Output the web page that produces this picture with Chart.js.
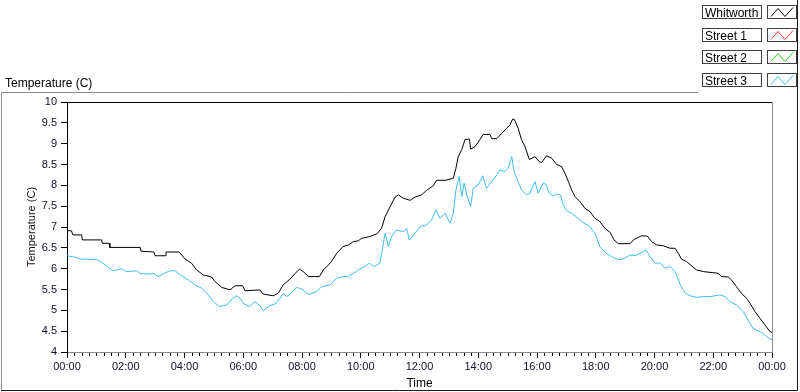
<!DOCTYPE html>
<html>
<head>
<meta charset="utf-8">
<title>Temperature (C)</title>
<script src="https://cdn.jsdelivr.net/npm/chart.js@4.4.1/dist/chart.umd.min.js"></script>
<style>
  html, body { margin: 0; padding: 0; background: #fff; }
  #chart { display: block; }
</style>
</head>
<body>
<canvas id="chart" width="800" height="392"></canvas>
<script>
// series names + colours (legend order)
const seriesNames = ['Whitworth', 'Street 1', 'Street 2', 'Street 3'];
const seriesColors = ['#000000', '#ff3c3c', '#1ed81e', '#3dbdf6'];

// hours of day (0-24) and temperatures
const whitworthHours = [0, 0.15, 0.2, 0.5, 0.52, 1.18, 1.2, 1.44, 1.46, 2.49, 2.52, 2.96, 3.0, 3.34, 3.37, 3.82,
  4.02, 4.24, 4.41, 4.64, 4.92, 5.04, 5.27, 5.55, 5.72, 5.98, 6.06, 6.57, 6.68, 7.02, 7.19, 7.36, 7.59, 7.76,
  7.91, 8.04, 8.22, 8.59, 8.73, 8.9, 9.0, 9.18, 9.4, 9.58, 9.75, 9.92, 10.03, 10.31, 10.56, 10.71, 10.83, 11.0,
  11.17, 11.28, 11.45, 11.68, 11.85, 12.07, 12.24, 12.47, 12.58, 12.87, 13.15, 13.24, 13.32, 13.44, 13.55,
  13.7, 13.74, 13.89, 14.06, 14.17, 14.4, 14.46, 14.63, 14.8, 14.97, 15.08, 15.17, 15.23, 15.36, 15.47, 15.59,
  15.74, 15.93, 16.07, 16.16, 16.33, 16.5, 16.67, 16.84, 16.95, 17.07, 17.18, 17.29, 17.46, 17.63, 17.8, 17.97,
  18.14, 18.31, 18.49, 18.62, 18.77, 19.17, 19.28, 19.56, 19.76, 19.9, 20.07, 20.3, 20.53, 20.7, 20.81, 20.92,
  21.09, 21.26, 21.43, 21.66, 22.17, 22.28, 22.51, 22.62, 22.79, 22.96, 23.13, 23.25, 23.42, 23.59, 23.76,
  23.93, 24];
const whitworthTemps = [6.91, 6.91, 6.81, 6.81, 6.69, 6.69, 6.61, 6.61, 6.51, 6.51, 6.42, 6.4, 6.31, 6.31, 6.4, 6.4,
  6.23, 6.13, 5.97, 5.85, 5.8, 5.69, 5.55, 5.49, 5.59, 5.59, 5.47, 5.49, 5.39, 5.35, 5.41, 5.61, 5.75, 5.88,
  5.99, 5.93, 5.81, 5.81, 5.97, 6.09, 6.17, 6.37, 6.53, 6.57, 6.65, 6.67, 6.73, 6.77, 6.84, 6.97, 7.25, 7.49,
  7.72, 7.77, 7.69, 7.64, 7.72, 7.77, 7.88, 7.99, 8.12, 8.12, 8.17, 8.41, 8.69, 8.86, 9.1,
  9.11, 8.87, 8.93, 9.1, 9.22, 9.22, 9.12, 9.12, 9.25, 9.37, 9.45, 9.59, 9.58, 9.37, 9.1, 8.93,
  8.62, 8.69, 8.57, 8.55, 8.71, 8.65, 8.5, 8.45, 8.29, 8.09, 7.89, 7.73, 7.61, 7.45, 7.37, 7.21,
  7.13, 6.97, 6.87, 6.69, 6.6, 6.6, 6.69, 6.79, 6.78, 6.65, 6.57, 6.55, 6.49, 6.49, 6.37, 6.23,
  6.17, 6.07, 5.97, 5.93, 5.89, 5.81, 5.8, 5.73, 5.57, 5.41, 5.29, 5.17, 4.97, 4.81, 4.65,
  4.49, 4.47];

const street1Hours = [];
const street1Temps = [];
const street2Hours = [];
const street2Temps = [];

const street3Hours = [0, 0.3, 0.5, 1.0, 1.18, 1.41, 1.58, 1.86, 2.03, 2.37, 2.49, 2.83, 2.92, 3.11, 3.28, 3.51, 3.68,
  3.85, 4.13, 4.36, 4.59, 4.81, 4.98, 5.19, 5.44, 5.61, 5.78, 5.89, 6.0, 6.21, 6.4, 6.57, 6.68, 6.89, 7.08,
  7.25, 7.36, 7.48, 7.65, 7.82, 7.99, 8.22, 8.5, 8.67, 8.95, 9.18, 9.4, 9.58, 9.75, 9.92, 10.14, 10.29, 10.45,
  10.65, 10.71, 10.83, 10.94, 11.05, 11.22, 11.45, 11.56, 11.65, 11.85, 12.02, 12.24, 12.41, 12.56, 12.7,
  12.87, 13.04, 13.15, 13.24, 13.35, 13.44, 13.52, 13.61, 13.74, 13.83, 14.0, 14.15, 14.28, 14.46, 14.63,
  14.74, 14.91, 15.02, 15.14, 15.22, 15.36, 15.47, 15.64, 15.76, 15.93, 16.04, 16.21, 16.3, 16.42, 16.55,
  16.67, 16.8, 16.89, 17.0, 17.18, 17.4, 17.57, 17.8, 17.97, 18.14, 18.35, 18.54, 18.77, 18.99, 19.17, 19.34,
  19.51, 19.71, 19.85, 20.02, 20.19, 20.36, 20.53, 20.7, 20.88, 21.05, 21.22, 21.43, 21.66, 21.89, 22.23,
  22.4, 22.57, 22.79, 23.02, 23.18, 23.35, 23.59, 23.76, 23.93, 24];
const street3Temps = [6.31, 6.27, 6.23, 6.22, 6.15, 6.03, 5.95, 6.0, 5.93, 5.95, 5.88, 5.87, 5.89, 5.81, 5.88, 5.95, 5.95,
  5.85, 5.73, 5.61, 5.53, 5.37, 5.21, 5.09, 5.13, 5.27, 5.35, 5.29, 5.17, 5.09, 5.21, 5.11, 4.99, 5.11, 5.15,
  5.29, 5.41, 5.33, 5.43, 5.55, 5.51, 5.38, 5.45, 5.57, 5.61, 5.77, 5.81, 5.81, 5.89, 5.97, 6.05, 6.13, 6.05,
  6.13, 6.37, 6.85, 6.53, 6.77, 6.93, 6.89, 6.97, 6.69, 6.85, 7.01, 7.05, 7.17, 7.41, 7.21,
  7.33, 7.09, 7.33, 7.89, 8.21, 7.73, 8.05, 7.77, 7.49, 7.93, 8.01, 8.23, 7.93, 8.09, 8.25,
  8.37, 8.33, 8.41, 8.69, 8.33, 8.09, 7.89, 7.77, 7.81, 8.09, 7.81, 8.05, 8.03, 7.81, 7.75,
  7.79, 7.77, 7.53, 7.39, 7.33, 7.21, 7.11, 7.01, 6.85, 6.53, 6.37, 6.29, 6.21, 6.25, 6.33, 6.31,
  6.37, 6.45, 6.29, 6.13, 6.14, 6.01, 6.05, 5.93, 5.61, 5.41, 5.35, 5.31, 5.33, 5.33, 5.37,
  5.33, 5.21, 5.13, 4.97, 4.77, 4.57, 4.49, 4.41, 4.31, 4.3];

// axis tick labels
const timeLabels = ['00:00', '02:00', '04:00', '06:00', '08:00', '10:00', '12:00',
                    '14:00', '16:00', '18:00', '20:00', '22:00', '00:00'];

function toPoints(hours, temps) {
    return hours.map(function(h, i) { return {x: h, y: temps[i]}; });
}

const seriesData = [
    toPoints(whitworthHours, whitworthTemps),
    toPoints(street1Hours, street1Temps),
    toPoints(street2Hours, street2Temps),
    toPoints(street3Hours, street3Temps)
];

// panel frame, plot border, minor ticks, title and legend boxes
const panelPlugin = {
    id: 'panel',
    afterDraw(chart) {
        const ctx = chart.ctx;
        const area = chart.chartArea;
        const xs = chart.scales.x;
        ctx.save();

        // outer sunken frame
        ctx.lineWidth = 1;
        ctx.strokeStyle = '#8a8a8a';
        ctx.beginPath();
        ctx.moveTo(1.5, 390);
        ctx.lineTo(1.5, 92.5);
        ctx.lineTo(698, 92.5);
        ctx.stroke();
        ctx.strokeStyle = '#1a1a1a';
        ctx.beginPath();
        ctx.moveTo(1, 390.5);
        ctx.lineTo(797.5, 390.5);
        ctx.lineTo(797.5, 0);
        ctx.stroke();

        // plot border: black top, grey right
        ctx.strokeStyle = '#000';
        ctx.beginPath();
        ctx.moveTo(area.left, area.top + 0.5);
        ctx.lineTo(area.right, area.top + 0.5);
        ctx.stroke();
        ctx.strokeStyle = '#8a8a8a';
        ctx.beginPath();
        ctx.moveTo(area.right + 0.5, area.top);
        ctx.lineTo(area.right + 0.5, area.bottom + 1);
        ctx.stroke();

        // minor ticks every 15 minutes
        ctx.strokeStyle = '#000';
        ctx.beginPath();
        for (let m = 0; m <= 24 * 60; m += 15) {
            if (m % 120 === 0) continue;
            const px = Math.round(xs.getPixelForValue(m / 60)) + 0.5;
            ctx.moveTo(px, area.bottom + 1);
            ctx.lineTo(px, area.bottom + 4);
        }
        ctx.stroke();

        // chart title
        ctx.fillStyle = '#000';
        ctx.font = '12px "Liberation Sans", Arial, sans-serif';
        ctx.textBaseline = 'alphabetic';
        ctx.textAlign = 'left';
        ctx.fillText('Temperature (C)', 5, 87);

        // legend: name box + swatch box per series
        chart.data.datasets.forEach(function(ds, i) {
            const top = 5 + i * 22.7;
            const ty = Math.round(top) + 0.5;
            ctx.strokeStyle = '#404040';
            ctx.strokeRect(702.5, ty, 59, 13);
            ctx.strokeRect(767.5, ty, 29, 13);
            ctx.fillStyle = '#000';
            ctx.fillText(ds.label, 705, ty + 11);
            ctx.strokeStyle = ds.borderColor;
            ctx.beginPath();
            ctx.moveTo(771, ty + 11);
            ctx.lineTo(778, ty + 3);
            ctx.lineTo(785, ty + 11);
            ctx.lineTo(793, ty + 2);
            ctx.stroke();
        });

        ctx.restore();
    }
};

new Chart(document.getElementById('chart'), {
    type: 'line',
    data: {
        datasets: seriesNames.map(function(name, i) {
            return {
                label: name,
                data: seriesData[i],
                borderColor: seriesColors[i],
                borderWidth: 1,
                pointRadius: 0,
                tension: 0,
                fill: false
            };
        })
    },
    options: {
        responsive: false,
        animation: false,
        layout: { padding: { top: 102, right: 28, left: 0, bottom: 0 } },
        plugins: {
            legend: { display: false },
            tooltip: { enabled: false }
        },
        scales: {
            x: {
                type: 'linear',
                min: 0,
                max: 24,
                afterFit: function(scale) { scale.height = 40; },
                border: { color: '#8a8a8a', width: 1 },
                grid: { drawOnChartArea: false, drawTicks: true, tickLength: 6, color: '#000' },
                ticks: {
                    stepSize: 2,
                    autoSkip: false,
                    maxRotation: 0,
                    padding: 2,
                    color: '#101028',
                    font: { family: '"Liberation Sans", Arial, sans-serif', size: 11 },
                    callback: function(v) { return timeLabels[Math.round(v / 2)]; }
                },
                title: {
                    display: true,
                    text: 'Time',
                    color: '#000',
                    font: { family: '"Liberation Sans", Arial, sans-serif', size: 12 },
                    padding: { top: 0, bottom: 1 }
                }
            },
            y: {
                min: 4,
                max: 10,
                afterFit: function(scale) { scale.width = 67; },
                border: { color: '#000', width: 1 },
                grid: { drawOnChartArea: false, drawTicks: true, tickLength: 6, color: '#000' },
                ticks: {
                    stepSize: 0.5,
                    padding: 4,
                    color: '#101028',
                    font: { family: '"Liberation Sans", Arial, sans-serif', size: 11 },
                    callback: function(v) { return String(Math.round(v * 10) / 10); }
                },
                title: {
                    display: true,
                    text: 'Temperature (C)',
                    color: '#1a1010',
                    font: { family: '"Liberation Sans", Arial, sans-serif', size: 11 },
                    padding: { top: 25, bottom: 0 }
                }
            }
        }
    },
    plugins: [panelPlugin]
});
</script>
</body>
</html>
